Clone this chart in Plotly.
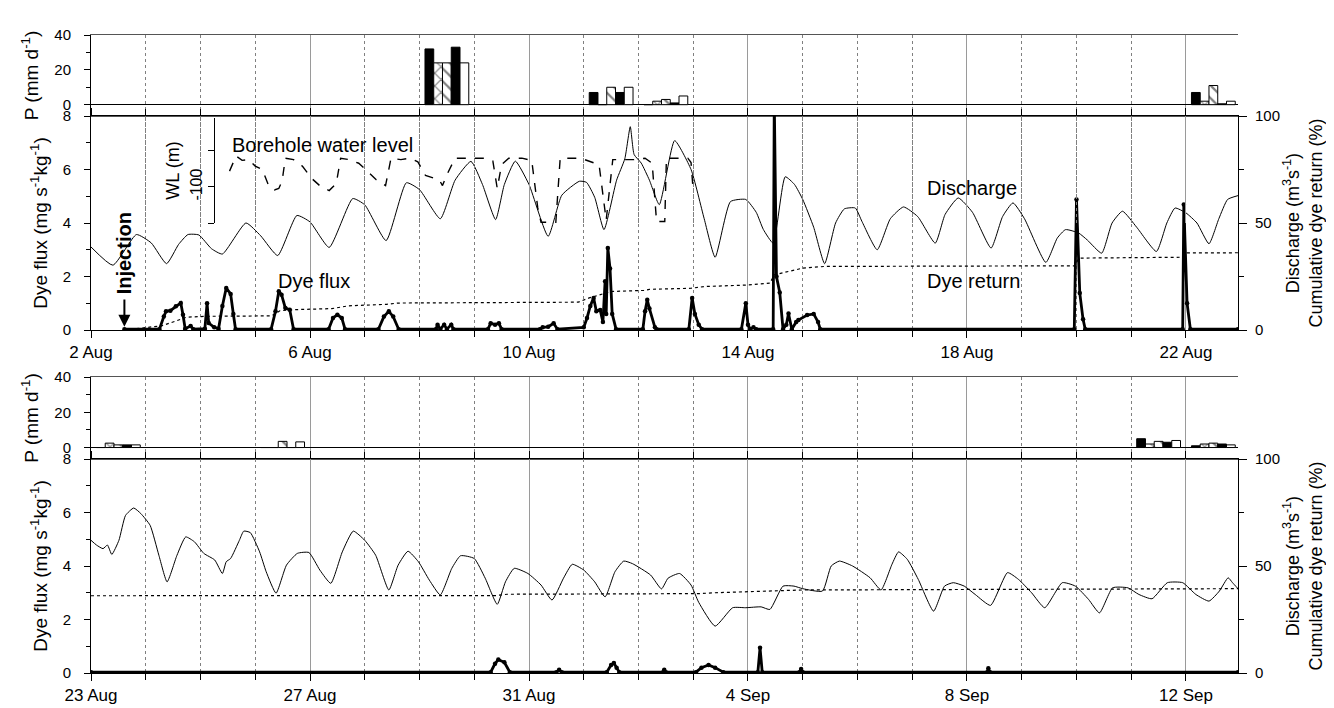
import pandas as pd
import plotly.graph_objects as go

# ---------------- data (days after panel start) ----------------
TOP_START = pd.Timestamp("1999-08-02")
BOT_START = pd.Timestamp("1999-08-23")
SPAN_DAYS = 20.95

# precipitation bars (five gauges), days of rain (noon positions)
p_top_days = [6.5, 9.5, 10.5, 20.5]
p_top_g1 = [32, 7, 0, 7]
p_top_g2 = [24, 0, 2, 2]
p_top_g3 = [24, 10, 3, 11]
p_top_g4 = [33, 7, 1, 0.5]
p_top_g5 = [24, 10, 5, 2]

p_bot_days = [0.5, 3.5, 19.5, 20.5]
p_bot_g1 = [0, 0, 5, 1]
p_bot_g2 = [2.5, 0, 2, 2]
p_bot_g3 = [1.5, 3.5, 3.5, 2.5]
p_bot_g4 = [1.5, 0, 3, 2]
p_bot_g5 = [1.5, 3.2, 4, 1.5]

# discharge (m3 s-1), top period
q_top_d = [0, 0.4, 0.83, 1.1, 1.38, 1.6, 1.77, 1.97, 2.2, 2.4, 2.83, 3.1, 3.41, 3.76, 4.0,
           4.35, 4.78, 5.0, 5.39, 5.76, 6.0, 6.38, 6.65, 6.94, 7.15, 7.39, 7.55, 7.75, 8.0,
           8.35, 8.6, 8.92, 9.05, 9.2, 9.37, 9.6, 9.75, 9.85, 9.92, 10.05, 10.2, 10.38, 10.66,
           10.96, 11.2, 11.4, 11.68, 11.96, 12.15, 12.28, 12.46, 12.68, 12.85, 13.0, 13.2, 13.4,
           13.6, 13.76, 13.96, 14.08, 14.36, 14.6, 14.84, 15.1, 15.42, 15.6, 15.84, 16.1, 16.44,
           16.65, 16.84, 17.05, 17.44, 17.65, 17.8, 18.04, 18.2, 18.46, 18.65, 18.84, 19.1,
           19.46, 19.65, 19.8, 20.0, 20.2, 20.42, 20.6, 20.76, 20.95]
q_top_v = [38.8, 30.3, 44.6, 40.7, 31, 40, 44.6, 44.4, 38, 35.5, 50, 44, 34.8, 53.5, 50.5,
           38.6, 61.4, 58.5, 41.8, 68.8, 65.6, 52, 70, 78.8, 68, 51.6, 68, 78.9, 68,
           43.8, 63, 69.5, 69, 62, 46.9, 70, 80, 95, 82, 78, 70, 58.6, 88.5,
           75, 52, 34, 60, 61, 55, 47, 40.6, 71.6, 68, 61, 48, 31,
           50, 56.6, 57, 50.8, 37.5, 52, 57.5, 53, 40.6, 54, 61.7, 55, 38.3,
           53, 59.4, 52, 31.6, 43, 46.9, 45.3, 42, 35.9, 50, 55.5, 48,
           36.7, 50, 57, 54.7, 50, 40.3, 52, 61, 62.8]

# cumulative dye return (%), top period
r_top_d = [0.61, 1.3, 1.75, 2.1, 3.3, 3.45, 3.7, 4.4, 4.7, 5.4, 5.6, 8.9, 9.1, 9.5, 10.1,
           10.2, 10.96, 11.2, 11.96, 12.4, 12.48, 12.6, 13.0, 13.4, 17.96, 18.05, 19.94,
           20.02, 20.95]
r_top_v = [0, 2.0, 6.0, 6.4, 6.6, 9.0, 9.5, 10.0, 11.3, 12.0, 12.6, 13.0, 15, 18, 18.5,
           19, 19.5, 20.3, 21, 21.9, 25.8, 26.6, 28.9, 29.7, 30, 33.6, 34,
           36, 36.1]

# dye flux (mg s-1 kg-1), top period
f_top_d = [0.61, 1.25, 1.33, 1.37, 1.45, 1.55, 1.64, 1.68, 1.72, 1.82, 1.87, 2.08, 2.12, 2.15,
           2.25, 2.33, 2.4, 2.47, 2.55, 2.6, 2.64, 3.29, 3.37, 3.43, 3.48, 3.55, 3.63, 3.7,
           4.34, 4.42, 4.5, 4.58, 4.64, 5.25, 5.35, 5.44, 5.52, 5.62, 6.3, 6.33, 6.38, 6.45,
           6.5, 6.58, 6.62, 7.25, 7.3, 7.38, 7.45, 7.5, 8.2, 8.25, 8.35, 8.45, 8.52, 9.0,
           9.06, 9.12, 9.18, 9.23, 9.3, 9.35, 9.39, 9.41, 9.44, 9.48, 9.52, 9.59, 10.08,
           10.12, 10.16, 10.2, 10.3, 10.33, 10.92, 10.98, 11.03, 11.1, 11.16, 11.88, 11.96,
           12.0, 12.04, 12.1, 12.15, 12.46, 12.48, 12.52, 12.58, 12.64, 12.7, 12.74, 12.8,
           12.88, 12.92, 13.08, 13.2, 13.28, 13.32, 17.96, 18.0, 18.06, 18.12, 18.16, 19.94,
           19.96, 20.02, 20.08, 20.95]
f_top_v = [0.03, 0.03, 0.5, 0.7, 0.72, 0.89, 1.01, 0.57, 0.05, 0.15, 0.03, 0.05, 1.0, 0.26,
           0.1, 0.05, 0.9, 1.57, 1.35, 0.6, 0.03, 0.03, 0.7, 1.45, 1.32, 0.82, 0.76, 0.03,
           0.03, 0.45, 0.57, 0.45, 0.03, 0.03, 0.5, 0.7, 0.5, 0.03, 0.03, 0.2, 0.03, 0.2,
           0.03, 0.2, 0.03, 0.03, 0.25, 0.2, 0.25, 0.03, 0.03, 0.1, 0.12, 0.25, 0.03, 0.1,
           0.45, 0.9, 1.2, 0.7, 0.75, 0.3, 1.82, 0.6, 3.07, 2.3, 0.6, 0.03, 0.03,
           0.7, 1.13, 0.8, 0.1, 0.03, 0.03, 1.2, 0.6, 0.2, 0.03, 0.03, 1.0,
           0.2, 0.03, 0.1, 0.03, 0.03, 8.6, 2.0, 1.4, 0.03, 0.2, 0.62, 0.03,
           0.3, 0.37, 0.56, 0.6, 0.3, 0.03, 0.03, 4.88, 1.38, 0.4, 0.03, 0.03,
           4.69, 1.0, 0.03, 0.03]

# borehole water level (m), top period
wl_d = [2.53, 2.65, 2.76, 2.88, 3.0, 3.13, 3.25, 3.35, 3.43, 3.49, 3.55, 3.7, 3.86, 4.03,
        4.19, 4.35, 4.48, 4.56, 4.72, 4.89, 5.05, 5.21, 5.38, 5.48, 5.66, 5.83, 5.97, 6.11,
        6.28, 6.36, 6.42, 6.5, 6.65, 6.97, 7.18, 7.34, 7.42, 7.5, 7.63, 7.87, 8.05, 8.16,
        8.22, 8.49, 8.57, 8.94, 9.14, 9.28, 9.41, 9.53, 9.92, 10.12, 10.25, 10.33, 10.48,
        10.51, 10.9, 10.96, 11.0]
wl_v = [-78, -57, -63, -62, -71, -76, -99, -104, -102, -92, -60, -62, -71, -88,
        -99, -105, -95, -60, -62, -67, -78, -90, -98, -60, -62, -60, -65, -84,
        -88, -90, -98, -83, -60, -60, -60, -64, -102, -69, -60, -60, -63, -129,
        -149, -149, -60, -60, -65, -69, -146, -62, -62, -60, -67, -148, -148,
        -60, -60, -66, -106]

# discharge (m3 s-1), bottom period
q_bot_d = [0, 0.1, 0.22, 0.3, 0.38, 0.51, 0.63, 0.78, 0.91, 1.08, 1.24, 1.39, 1.57, 1.73,
           1.89, 2.06, 2.26, 2.4, 2.47, 2.55, 2.71, 2.79, 2.91, 3.08, 3.2, 3.38, 3.57, 3.77,
           3.98, 4.18, 4.38, 4.59, 4.79, 5.0, 5.2, 5.44, 5.61, 5.79, 5.98, 6.18, 6.38, 6.59,
           6.75, 7.0, 7.2, 7.42, 7.57, 7.73, 7.98, 8.22, 8.42, 8.63, 8.79, 9.0, 9.2, 9.39,
           9.57, 9.73, 9.89, 10.22, 10.42, 10.54, 10.75, 10.96, 11.1, 11.4, 11.72, 11.96,
           12.24, 12.4, 12.64, 12.84, 13.0, 13.36, 13.52, 13.67, 13.91, 14.23, 14.43, 14.63,
           14.75, 14.91, 15.11, 15.39, 15.59, 15.75, 15.95, 16.15, 16.43, 16.74, 16.94,
           17.18, 17.42, 17.74, 17.98, 18.22, 18.42, 18.66, 18.94, 19.14, 19.38, 19.66,
           19.94, 20.18, 20.42, 20.61, 20.77, 20.85, 20.95]
q_bot_v = [62, 59.8, 58.1, 59.8, 55.4, 62, 73.6, 77.1, 74.5, 69, 55, 42.6, 55, 63.6,
           61.3, 55.9, 52.8, 46.5, 52, 53.5, 62, 66.3, 65.6, 56.6, 47.3, 37.3, 50.4, 55.9,
           56.3, 48.1, 41.9, 56.6, 66.3, 62, 55, 38.8, 50.4, 56.9, 52, 43.4, 36.5, 48.9,
           54.8, 53.5, 44.3, 32.1, 42.6, 48.9, 46.5, 41.1, 34.1, 44.3, 50.8, 48.1, 42.6, 35.6,
           47.3, 52.3, 51.1, 45.8, 39.3, 44.3, 46.5, 41.1, 33, 21.9, 30.5, 30.5,
           30.9, 29.7, 40.6, 40.6, 39.4, 38.3, 50, 52.3, 50, 44.5, 38.8, 50.8,
           56.6, 53.1, 43.75, 28.9, 40.6, 42.2, 40.6, 36.7, 31.6, 46.9, 43.75,
           37.5, 30.5, 42.2, 40.6, 34.4, 28.1, 39.8, 39.8, 36.7, 34.7, 42.2,
           42.2, 36.7, 33.6, 38.3, 44.5, 42.2, 39.4]

# cumulative dye return (%), bottom period
r_bot_d = [0, 7.4, 7.6, 11.1, 11.4, 12.2, 13.0, 20.95]
r_bot_v = [36.1, 36.2, 36.8, 37.1, 37.5, 38.3, 38.8, 39.4]

# dye flux (mg s-1 kg-1), bottom period
f_bot_d = [0, 7.3, 7.38, 7.44, 7.55, 7.65, 8.5, 8.55, 8.6, 9.42, 9.5, 9.55, 9.6, 9.65,
           10.45, 10.47, 10.5, 11.05, 11.15, 11.28, 11.4, 11.55, 12.18, 12.22, 12.26, 12.94,
           12.97, 13.0, 16.37, 16.39, 16.42, 20.95]
f_bot_v = [0.03, 0.03, 0.35, 0.5, 0.4, 0.03, 0.03, 0.12, 0.03, 0.03, 0.3, 0.37, 0.2, 0.03,
           0.03, 0.12, 0.03, 0.03, 0.2, 0.3, 0.2, 0.03, 0.03, 0.94, 0.03, 0.03,
           0.15, 0.03, 0.03, 0.18, 0.03, 0.03]

# ---------------- helpers ----------------
def tt(start, days):
    return [start + pd.Timedelta(days=float(d)) for d in days]

FONT = "Liberation Sans, Arial, sans-serif"
W, H = 1334, 708
X0, X1 = 83 / W, 1230 / W
TICK_FS, XTICK_FS, TITLE_FS, ANN_FS = 15, 17, 18, 20

def ydom(top_px, bot_px):
    return [1 - bot_px / H, 1 - top_px / H]

fig = go.Figure()

bar_styles = [
    dict(color="black", line=dict(color="black", width=1)),
    dict(color="white", line=dict(color="black", width=1),
         pattern=dict(shape="x", fgcolor="black", bgcolor="white", size=9, solidity=0.25)),
    dict(color="white", line=dict(color="black", width=1),
         pattern=dict(shape="\\", fgcolor="black", bgcolor="white", size=9, solidity=0.25)),
    dict(color="black", line=dict(color="black", width=1)),
    dict(color="white", line=dict(color="black", width=1)),
]

for series, st in zip([p_top_g1, p_top_g2, p_top_g3, p_top_g4, p_top_g5], bar_styles):
    fig.add_trace(go.Bar(x=tt(TOP_START, p_top_days), y=series, marker=st,
                         xaxis="x", yaxis="y", showlegend=False))
for series, st in zip([p_bot_g1, p_bot_g2, p_bot_g3, p_bot_g4, p_bot_g5], bar_styles):
    fig.add_trace(go.Bar(x=tt(BOT_START, p_bot_days), y=series, marker=st,
                         xaxis="x3", yaxis="y4", showlegend=False))

QLINE = dict(color="black", width=1, shape="spline", smoothing=0.5)
# top main
fig.add_trace(go.Scatter(x=tt(TOP_START, q_top_d), y=q_top_v, mode="lines",
                         line=QLINE, xaxis="x2", yaxis="y3"))
fig.add_trace(go.Scatter(x=tt(TOP_START, r_top_d), y=r_top_v, mode="lines",
                         line=dict(color="black", width=1.2, dash="dot"), xaxis="x2", yaxis="y3"))
fig.add_trace(go.Scatter(x=tt(TOP_START, wl_d), y=wl_v, mode="lines",
                         line=dict(color="black", width=1.4, dash="dash"), xaxis="x2", yaxis="y7"))
fig.add_trace(go.Scatter(x=tt(TOP_START, f_top_d), y=f_top_v, mode="lines+markers",
                         line=dict(color="black", width=2.8), marker=dict(size=4.5, color="black"),
                         xaxis="x2", yaxis="y2"))
# bottom main
fig.add_trace(go.Scatter(x=tt(BOT_START, q_bot_d), y=q_bot_v, mode="lines",
                         line=QLINE, xaxis="x4", yaxis="y6"))
fig.add_trace(go.Scatter(x=tt(BOT_START, r_bot_d), y=r_bot_v, mode="lines",
                         line=dict(color="black", width=1.2, dash="dot"), xaxis="x4", yaxis="y6"))
fig.add_trace(go.Scatter(x=tt(BOT_START, f_bot_d), y=f_bot_v, mode="lines+markers",
                         line=dict(color="black", width=2.8), marker=dict(size=4.5, color="black"),
                         xaxis="x4", yaxis="y5"))

DAY = 86400000
def xaxis_cfg(start, anchor, labels):
    end = start + pd.Timedelta(days=SPAN_DAYS)
    return dict(
        domain=[X0, X1], anchor=anchor, type="date", range=[start, end], automargin=False,
        tick0=start, dtick=4 * DAY, tickformat="%-d %b",
        showticklabels=labels, ticks="outside" if labels else "", ticklen=7,
        ticklabelstandoff=0,
        tickcolor="black", tickfont=dict(size=XTICK_FS, family=FONT, color="black"),
        showgrid=True, gridcolor="#9a9a9a", gridwidth=1,
        minor=dict(dtick=DAY, tick0=start, ticks="outside" if labels else "", ticklen=6,
                   tickcolor="black", showgrid=True, gridcolor="#808080", griddash="dot",
                   gridwidth=1),
        showline=True, linecolor="black" if labels else "#555", linewidth=1,
        mirror="ticks" if labels else True, zeroline=False,
    )

def p_yaxis(anchor, dom):
    return dict(domain=dom, anchor=anchor, range=[-6.5, 40], tickvals=[0, 20, 40],
                automargin=False, ticks="outside", ticklen=6, tickcolor="black",
                ticklabelstandoff=10,
                minor=dict(tickvals=[10, 30], ticks="outside", ticklen=4, tickcolor="black"),
                tickfont=dict(size=TICK_FS, family=FONT, color="black"),
                title=dict(text="P (mm d<sup>-1</sup>)", font=dict(size=TITLE_FS + 1, family=FONT),
                           standoff=10),
                showline=True, linecolor="black", mirror=False, showgrid=False,
                zeroline=True, zerolinecolor="black", zerolinewidth=1)

def flux_yaxis(anchor, dom):
    return dict(domain=dom, anchor=anchor, range=[0, 8], tickvals=[0, 2, 4, 6, 8],
                automargin=False, ticks="outside", ticklen=6, tickcolor="black",
                ticklabelstandoff=10,
                minor=dict(tickvals=[1, 3, 5, 7], ticks="outside", ticklen=4, tickcolor="black"),
                tickfont=dict(size=TICK_FS, family=FONT, color="black"),
                title=dict(text="Dye flux (mg s<sup>-1</sup>kg<sup>-1</sup>)",
                           font=dict(size=TITLE_FS + 1, family=FONT), standoff=10),
                showline=True, linecolor="black", showgrid=False, zeroline=False)

def right_yaxis(anchor, over):
    return dict(overlaying=over, anchor=anchor, side="right", range=[0, 100],
                automargin=False, tickvals=[0, 50, 100], ticks="outside", ticklen=8,
                tickcolor="black", ticklabelstandoff=5,
                minor=dict(tickvals=[25, 75], ticks="outside", ticklen=5, tickcolor="black"),
                tickfont=dict(size=TICK_FS, family=FONT, color="black"),
                title=dict(text="Discharge (m<sup>3</sup>s<sup>-1</sup>)<br>Cumulative dye return (%)",
                           font=dict(size=TITLE_FS, family=FONT), standoff=4),
                showline=True, linecolor="black", showgrid=False, zeroline=False)

top_p_dom = ydom(27, 108)
top_main_dom = ydom(108, 322)
bot_p_dom = ydom(369, 451)
bot_main_dom = ydom(451, 665)
wl_dom = ydom(110, 215)

fig.update_layout(
    width=W, height=H, margin=dict(l=0, r=0, t=0, b=0, autoexpand=False),
    paper_bgcolor="white", plot_bgcolor="rgba(0,0,0,0)",
    font=dict(family=FONT, color="black", size=16),
    barmode="group", bargap=0.2, bargroupgap=0.0, showlegend=False,
    xaxis=xaxis_cfg(TOP_START, "y", False),
    xaxis2=xaxis_cfg(TOP_START, "y2", True),
    xaxis3=xaxis_cfg(BOT_START, "y4", False),
    xaxis4=xaxis_cfg(BOT_START, "y5", True),
    yaxis=p_yaxis("x", top_p_dom),
    yaxis2=flux_yaxis("x2", top_main_dom),
    yaxis3=right_yaxis("x2", "y2"),
    yaxis4=p_yaxis("x3", bot_p_dom),
    yaxis5=flux_yaxis("x4", bot_main_dom),
    yaxis6=right_yaxis("x4", "y5"),
    yaxis7=dict(domain=wl_dom, anchor="free", position=206 / W, side="left",
                automargin=False,
                range=[-150, -4.2], tickvals=[-150, -100, -50], ticktext=["", "-100", ""],
                tickangle=-90, ticks="outside", ticklen=6, tickcolor="black",
                tickfont=dict(size=16, family=FONT, color="black"),
                title=dict(text="WL (m)", font=dict(size=18, family=FONT), standoff=2),
                showline=True, linecolor="black", showgrid=False, zeroline=False),
)

def ann(text, day, yval, **kw):
    fig.add_annotation(x=TOP_START + pd.Timedelta(days=day), y=yval, xref="x2",
                       yref="y2", text=text, showarrow=False,
                       font=dict(size=ANN_FS, family=FONT, color="black"), **kw)

ann("Borehole water level", 4.22, 6.93)
ann("Discharge", 16.1, 5.3)
ann("Dye return", 16.12, 1.85)
ann("Dye flux", 4.08, 1.82)
ann("<b>Injection</b>", 0.61, 2.88, textangle=-90)
fig.add_annotation(x=TOP_START + pd.Timedelta(days=0.61), y=0.12, xref="x2", yref="y2",
                   ax=TOP_START + pd.Timedelta(days=0.61), ay=1.2, axref="x2", ayref="y2",
                   text="", showarrow=True, arrowhead=2, arrowsize=1.2, arrowwidth=2,
                   arrowcolor="black")

fig.write_html("out.html")
